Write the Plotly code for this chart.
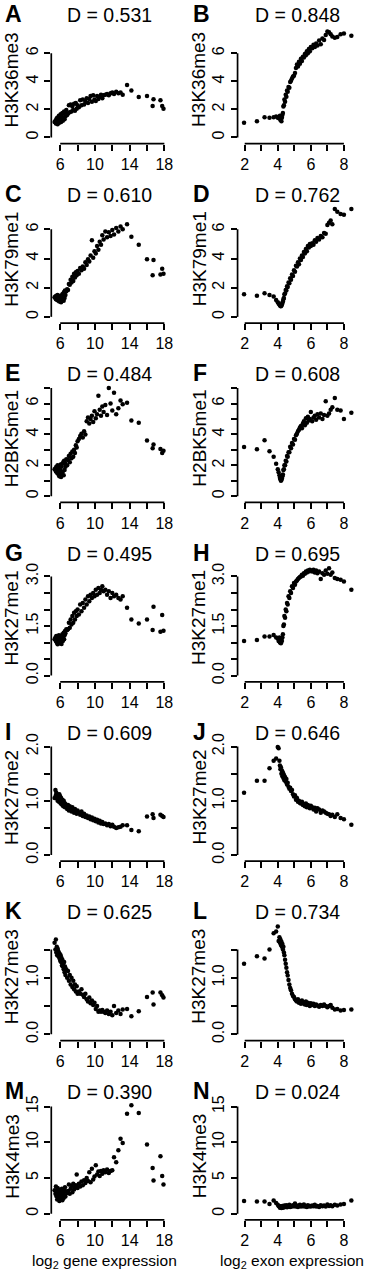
import plotly.graph_objects as go

# ---------------- data ----------------
gene_x = [5.35, 5.45, 5.5, 5.55, 5.6, 5.65, 5.7, 5.75, 5.8, 5.85, 5.9, 5.95, 6.0, 6.05, 6.1, 6.15, 6.2,
          6.25, 6.3, 6.35, 6.4, 6.45, 6.5, 6.55, 6.6, 6.7, 6.8,
          6.9, 7.0, 7.1, 7.2, 7.3, 7.4, 7.5, 7.6, 7.7, 7.8, 7.9, 8.0,
          8.15, 8.3, 8.45, 8.6, 8.75, 8.9, 9.05, 9.2, 9.35, 9.5, 9.65, 9.8, 9.95, 10.1, 10.25, 10.4,
          10.55, 10.7, 10.85, 11.0,
          11.2, 11.4, 11.6, 11.8, 12.0, 12.2, 12.45, 12.7, 12.95, 13.2,
          13.7, 14.2, 15.05, 16.0, 16.65, 16.75, 17.55, 17.75, 17.9]

exon_x = [1.96, 2.74, 3.2, 3.5, 3.75, 3.9, 4.0, 4.05,
          4.1, 4.13, 4.16, 4.19, 4.22, 4.25, 4.28,
          4.31, 4.34, 4.37, 4.4, 4.44, 4.48, 4.52, 4.56, 4.6, 4.65, 4.7, 4.75, 4.8, 4.86, 4.92, 4.98, 5.04,
          5.1, 5.16, 5.22, 5.28, 5.34, 5.4, 5.46, 5.52, 5.58, 5.64, 5.7, 5.76, 5.82, 5.88, 5.94, 6.0,
          6.08, 6.16, 6.24, 6.32, 6.4, 6.5, 6.6, 6.7, 6.8, 6.9, 7.0, 7.1, 7.2, 7.3, 7.45, 7.6, 7.8, 8.0, 8.45]

A_y = [1.10, 1.20, 1.00, 1.30, 1.10, 1.40, 0.95, 1.35, 1.15, 1.55, 1.05, 1.45, 1.20, 1.65, 1.10, 1.55,
       1.25, 1.75, 1.20, 1.70, 1.40, 1.85, 1.30, 1.80, 1.50, 1.95, 1.60,
       1.70, 2.30, 1.80, 2.35, 1.85, 2.20, 1.95, 2.40, 1.90, 2.45, 2.05, 2.30,
       2.15, 2.65, 2.30, 2.70, 2.35, 2.55, 2.80, 2.45, 2.75, 2.95, 2.55, 3.00, 2.70, 2.60, 2.95, 2.75,
       2.90, 3.05, 2.80, 3.00,
       3.05, 3.10, 3.00, 3.15, 3.20, 3.10, 3.25, 3.15, 3.20, 3.05,
       3.74, 3.34, 2.89, 2.96, 2.25, 2.73, 2.65, 2.25, 2.04]

C_y = [1.35, 1.40, 1.20, 1.45, 1.30, 1.15, 1.50, 1.25, 1.10, 1.40, 1.05, 1.30, 1.20, 1.45, 1.00, 1.35,
       1.15, 1.55, 1.25, 1.60, 1.10, 1.70, 1.30, 1.80, 1.50, 1.75, 1.90,
       1.85, 2.25, 2.20, 2.55, 2.35, 2.75, 2.45, 2.95, 2.70, 3.05, 2.85, 3.15,
       2.95, 3.35, 3.20, 3.45, 3.30, 3.75, 3.55, 3.95, 3.80, 4.20, 5.25, 4.05, 4.50, 4.35, 4.85, 4.60,
       5.15, 4.95, 5.60, 5.30,
       5.85, 5.45, 5.80, 5.55, 5.95, 5.65, 6.10, 5.85, 6.20, 6.00,
       6.35, 5.50, 4.95, 3.95, 2.85, 3.90, 2.90, 3.30, 2.95]

E_y = [1.75, 1.80, 1.60, 1.90, 1.70, 1.50, 2.00, 1.65, 1.40, 1.85, 1.30, 1.75, 1.55, 2.05, 1.25, 1.90,
       1.45, 2.10, 1.60, 2.20, 1.35, 2.30, 1.70, 2.15, 1.90, 2.40, 2.00,
       2.35, 2.60, 2.20, 2.75, 2.45, 2.90, 2.55, 3.00, 2.80, 3.30, 3.15, 3.55,
       3.70, 3.90, 4.05, 3.80, 4.20, 4.00, 4.85, 5.10, 4.70, 5.00, 5.20, 4.80, 5.50, 5.05, 5.30, 6.50,
       5.60, 5.20, 5.80, 5.45,
       5.90, 5.25, 7.00, 6.00, 5.55, 6.70, 5.30, 5.70, 6.20, 5.95,
       6.05, 4.90, 4.75, 3.60, 3.10, 3.35, 3.05, 2.80, 2.95]

G_y = [1.10, 1.15, 1.05, 1.20, 1.00, 1.12, 0.95, 1.18, 1.05, 1.22, 0.98, 1.10, 1.15, 1.02, 1.20, 0.96,
       1.12, 1.25, 1.05, 1.18, 1.30, 1.10, 1.22, 1.35, 1.28, 1.40, 1.38,
       1.40, 1.60, 1.45, 1.70, 1.55, 1.80, 1.60, 1.90, 1.70, 1.95, 1.80, 2.00,
       1.85, 2.15, 1.95, 2.20, 2.05, 2.30, 2.15, 2.40, 2.25, 2.45, 2.35, 2.50, 2.40, 2.60, 2.45, 2.65,
       2.50, 2.60, 2.70, 2.55,
       2.60, 2.45, 2.55, 2.35, 2.50, 2.40, 2.45, 2.35, 2.30, 2.40,
       2.05, 1.70, 1.58, 1.70, 1.38, 2.08, 1.33, 1.83, 1.36]

I_y = [1.05, 1.20, 1.10, 1.15, 1.05, 1.12, 1.00, 1.10, 1.08, 0.98, 1.12, 1.02, 1.08, 0.95, 1.05, 1.00,
       0.93, 1.02, 0.97, 0.90, 1.00, 0.92, 0.96, 0.88, 0.94, 0.90, 0.85,
       0.92, 0.82, 0.90, 0.86, 0.80, 0.88, 0.84, 0.78, 0.85, 0.80, 0.76, 0.82,
       0.78, 0.74, 0.80, 0.72, 0.76, 0.70, 0.73, 0.68, 0.71, 0.66, 0.69, 0.64, 0.67, 0.62, 0.65, 0.60,
       0.63, 0.58, 0.61, 0.57,
       0.58, 0.55, 0.57, 0.53, 0.56, 0.52, 0.50, 0.51, 0.52, 0.55,
       0.55, 0.46, 0.44, 0.71, 0.75, 0.68, 0.74, 0.72, 0.70]

K_y = [1.62, 1.50, 1.68, 1.45, 1.55, 1.40, 1.52, 1.48, 1.38, 1.45, 1.35, 1.42, 1.30, 1.40, 1.28, 1.35,
       1.22, 1.32, 1.20, 1.25, 1.15, 1.28, 1.10, 1.20, 1.05, 1.15, 1.00,
       1.12, 0.95, 1.05, 0.88, 1.00, 0.84, 0.95, 0.80, 0.88, 0.76, 0.85, 0.72,
       0.76, 0.72, 0.80, 0.70, 0.66, 0.72, 0.62, 0.58, 0.65, 0.55, 0.60, 0.52, 0.56, 0.45, 0.50, 0.40,
       0.42, 0.40, 0.43, 0.40,
       0.38, 0.42, 0.36, 0.40, 0.34, 0.50, 0.38, 0.42, 0.36, 0.44,
       0.45, 0.32, 0.41, 0.66, 0.74, 0.53, 0.74, 0.69, 0.65]

M_y = [3.30, 2.80, 3.80, 2.50, 3.10, 2.00, 3.60, 2.70, 2.30, 3.40, 1.80, 2.90, 2.40, 3.20, 2.10, 2.60,
       3.50, 1.90, 2.80, 3.00, 2.20, 3.30, 2.60, 3.70, 2.40, 3.10, 2.90,
       3.20, 4.10, 2.80, 3.50, 3.90, 3.00, 4.20, 3.40, 3.70, 4.00, 5.50, 3.60,
       4.20, 3.80, 4.50, 4.00, 4.70, 4.30, 5.00, 4.60, 5.80, 4.40, 6.30, 4.80, 5.20, 6.80, 5.50, 5.90,
       5.30, 6.00, 5.60, 6.10,
       5.80, 6.20, 5.70, 6.00, 6.10, 7.90, 7.20, 8.90, 10.50, 9.90,
       14.00, 15.20, 14.10, 9.70, 6.40, 4.65, 8.05, 5.30, 4.10]

B_y = [1.05, 1.15, 1.45, 1.40, 1.45, 1.50, 1.40, 1.45,
       1.35, 1.55, 1.25, 1.45, 1.15, 1.40, 1.60,
       1.75, 2.20, 2.30, 2.70, 2.55, 3.05, 2.90, 3.35, 3.25, 3.60, 3.55, 3.95, 4.05, 4.20, 4.35, 4.40, 4.60,
       4.95, 5.20, 5.05, 5.40, 5.25, 5.60, 5.45, 5.75, 5.70, 5.95, 5.85, 6.15, 6.00, 6.30, 6.15, 6.45,
       6.35, 6.60, 6.45, 6.70, 6.55, 6.90, 6.65, 7.05, 6.95, 7.30, 7.55, 7.50, 7.35, 7.20, 7.10, 7.15,
       7.35, 7.40, 7.25]

D_y = [1.55, 1.45, 1.62, 1.50, 1.40, 1.15, 1.00, 0.92,
       0.85, 0.80, 0.75, 0.72, 0.78, 0.85, 0.95,
       1.05, 1.20, 1.30, 1.55, 1.60, 1.85, 1.80, 2.10, 2.05, 2.35, 2.30, 2.65, 2.55, 2.90, 2.80, 3.20, 3.10,
       3.50, 3.45, 3.75, 3.60, 4.00, 3.90, 4.20, 4.10, 4.45, 4.35, 4.65, 4.50, 4.85, 4.75, 5.00, 4.85,
       5.05, 4.95, 5.25, 5.15, 5.40, 5.30, 5.55, 5.45, 5.75, 5.70, 6.30, 6.45, 6.60, 6.35, 7.40, 7.20,
       7.05, 7.00, 7.40]

F_y = [3.19, 3.04, 3.62, 2.91, 2.55, 2.10, 1.75, 1.55,
       1.35, 1.20, 1.10, 1.00, 1.05, 1.15, 1.30,
       1.40, 1.70, 1.75, 2.00, 2.00, 2.30, 2.25, 2.60, 2.55, 2.85, 2.85, 3.20, 3.10, 3.45, 3.35, 3.70, 3.65,
       3.95, 4.05, 4.20, 4.30, 4.45, 4.55, 4.40, 4.70, 4.85, 4.60, 5.05, 4.75, 5.15, 4.90, 5.00, 5.45,
       4.85, 5.10, 5.20, 4.95, 5.30, 5.10, 5.35, 5.00, 5.25, 6.15, 5.20, 5.35, 5.60, 5.75, 6.35, 5.60,
       5.55, 5.00, 5.40]

H_y = [1.05, 1.08, 1.18, 1.18, 1.23, 1.15, 1.12, 1.05,
       1.15, 1.00, 1.10, 0.98, 1.12, 1.05, 1.15,
       1.25, 1.50, 1.55, 1.80, 1.75, 2.00, 1.95, 2.20, 2.15, 2.40, 2.35, 2.55, 2.50, 2.70, 2.65, 2.80, 2.75,
       2.85, 2.88, 2.92, 2.95, 2.98, 3.00, 3.05, 3.02, 3.10, 3.08, 3.15, 3.12, 3.18, 3.15, 3.20, 3.18,
       3.15, 3.20, 3.12, 3.18, 3.10, 3.15, 2.92, 3.10, 3.05, 3.18, 3.08, 3.25, 3.05, 3.12, 2.95, 2.92,
       2.90, 2.85, 2.60]

J_y = [1.15, 1.37, 1.37, 1.60, 1.74, 1.78, 1.99, 1.97,
       1.74, 1.65, 1.58, 1.62, 1.50, 1.56, 1.45,
       1.52, 1.42, 1.48, 1.38, 1.44, 1.35, 1.40, 1.30, 1.33, 1.26, 1.22, 1.24, 1.18, 1.20, 1.12, 1.08, 1.10,
       1.02, 1.05, 0.98, 1.00, 0.96, 0.95, 0.98, 0.92, 0.94, 0.90, 0.95, 0.88, 0.92, 0.90, 0.86, 0.91,
       0.88, 0.84, 0.87, 0.80, 0.86, 0.84, 0.78, 0.82, 0.80, 0.78, 0.76, 0.75, 0.72, 0.74, 0.70, 0.75,
       0.68, 0.66, 0.56]

L_y = [1.25, 1.38, 1.34, 1.50, 1.79, 1.82, 1.91, 1.65,
       1.72, 1.62, 1.68, 1.58, 1.64, 1.55, 1.60,
       1.50, 1.55, 1.45, 1.40, 1.32, 1.25, 1.18, 1.10, 1.04, 0.96, 0.88, 0.82, 0.78, 0.72, 0.68, 0.66, 0.62,
       0.60, 0.58, 0.62, 0.56, 0.58, 0.54, 0.60, 0.55, 0.57, 0.53, 0.58, 0.52, 0.56, 0.54, 0.50, 0.55,
       0.52, 0.54, 0.50, 0.53, 0.51, 0.49, 0.52, 0.50, 0.53, 0.50, 0.48, 0.50, 0.52, 0.47, 0.44, 0.45,
       0.42, 0.43, 0.44]

N_y = [1.80, 1.72, 1.72, 1.35, 1.85, 1.50, 1.25, 1.10,
       1.00, 0.85, 1.05, 0.90, 0.80, 0.95, 1.10,
       0.85, 1.00, 0.90, 1.15, 0.95, 1.05, 1.20, 0.90, 1.10, 1.00, 1.25, 0.95, 1.10, 1.00, 1.20, 1.05, 1.45,
       1.00, 1.15, 0.95, 1.10, 1.25, 1.00, 1.15, 1.05, 1.30, 1.00, 1.10, 0.95, 1.20, 1.05, 1.10, 1.00,
       1.15, 1.05, 1.25, 1.00, 1.10, 0.95, 1.20, 1.05, 1.15, 1.00, 1.30, 1.10, 1.20, 1.05, 1.25, 1.15,
       1.30, 1.35, 1.86]

marks = ["H3K36me3", "H3K79me1", "H2BK5me1", "H3K27me1", "H3K27me2", "H3K27me3", "H3K4me3"]
letters_left = ["A", "C", "E", "G", "I", "K", "M"]
letters_right = ["B", "D", "F", "H", "J", "L", "N"]
d_left = ["0.531", "0.610", "0.484", "0.495", "0.609", "0.625", "0.390"]
d_right = ["0.848", "0.762", "0.608", "0.695", "0.646", "0.734", "0.024"]
y_left = [A_y, C_y, E_y, G_y, I_y, K_y, M_y]
y_right = [B_y, D_y, F_y, H_y, J_y, L_y, N_y]

row_tickvals = [[0, 2, 4, 6], [0, 2, 4, 6], [0, 1, 2, 3, 4, 5, 6, 7],
                [0, 0.5, 1, 1.5, 2, 2.5, 3], [0, 0.5, 1, 1.5, 2], [0, 0.5, 1, 1.5], [0, 5, 10, 15]]
row_ticktext = [["0", "2", "4", "6"], ["0", "2", "4", "6"], ["0", "", "2", "", "4", "", "6", ""],
                ["0.0", "", "", "1.5", "", "", "3.0"], ["0.0", "", "1.0", "", "2.0"],
                ["0.0", "", "1.0", ""], ["0", "5", "10", "15"]]
gene_ticks = [6, 8, 10, 12, 14, 16, 18]
gene_ticktext = ["6", "", "10", "", "14", "", "18"]
exon_ticks = [2, 3, 4, 5, 6, 7, 8]
exon_ticktext = ["2", "", "4", "", "6", "", "8"]

# ---------------- geometry (pixels) ----------------
W, H = 371, 1280
ROW_STEP = 179.8
TOP, BOT = 14.0, 144.0
ZERO = 137.8
ROW_PPU = [14.07, 14.62, 15.49, 33.13, 54.35, 56.67, 7.16]
COLS = [
    dict(axis=51.7, right=172.0, ref_v=6.0, ref_px=60.7, ppu=8.75, xs=gene_x, ticks=gene_ticks,
         ticktext=gene_ticktext, letter_x=3.0, ylab_x=11.7, title_x=110.0, xlab_x=105.0,
         xlab="log<sub>2</sub> gene expression"),
    dict(axis=239.5, right=360.0, ref_v=2.0, ref_px=246.7, ppu=16.67, xs=exon_x, ticks=exon_ticks,
         ticktext=exon_ticktext, letter_x=192.5, ylab_x=200.7, title_x=300.0, xlab_x=294.5,
         xlab="log<sub>2</sub> exon expression"),
]
FONT = "Liberation Sans, Arial, Helvetica, sans-serif"
AX_W = 1.7


def fy(px):
    return 1 - px / H


def fx(px):
    return px / W


fig = go.Figure()
layout = dict(width=W, height=H, margin=dict(l=0, r=0, t=0, b=0), showlegend=False,
              plot_bgcolor="white", paper_bgcolor="white", font=dict(family=FONT, color="black"))
annotations = []
shapes = []
n = 0
for r in range(7):
    oy = r * ROW_STEP
    ppu_y = ROW_PPU[r]
    yrange = [(ZERO - BOT) / ppu_y, (ZERO - TOP) / ppu_y]
    for c, col in enumerate(COLS):
        n += 1
        sfx = "" if n == 1 else str(n)
        ys = y_left[r] if c == 0 else y_right[r]
        xrange = [col["ref_v"] + (col["axis"] - col["ref_px"]) / col["ppu"],
                  col["ref_v"] + (col["right"] - col["ref_px"]) / col["ppu"]]
        fig.add_trace(go.Scatter(x=col["xs"], y=ys, mode="markers", xaxis="x" + sfx, yaxis="y" + sfx,
                                 cliponaxis=False,
                                 marker=dict(size=4.5, color="black", line=dict(width=0))))
        layout["xaxis" + sfx] = dict(domain=[fx(col["axis"]), fx(col["right"])], range=xrange,
                                     anchor="y" + sfx, showgrid=False, zeroline=False, showline=False,
                                     ticks="outside", ticklen=6, tickwidth=AX_W, tickcolor="black",
                                     tickvals=col["ticks"], ticktext=col["ticktext"],
                                     tickfont=dict(size=16, family=FONT, color="black"), fixedrange=True)
        layout["yaxis" + sfx] = dict(domain=[fy(oy + BOT), fy(oy + TOP)], range=yrange,
                                     anchor="x" + sfx, showgrid=False, zeroline=False, showline=False,
                                     ticks="outside", ticklen=6, tickwidth=AX_W, tickcolor="black",
                                     tickvals=row_tickvals[r], ticktext=row_ticktext[r], tickangle=-90,
                                     tickfont=dict(size=16, family=FONT, color="black"), fixedrange=True)
        # R-style axis lines spanning first to last tick
        shapes.append(dict(type="line", xref="x" + sfx + " domain", yref="y" + sfx, x0=0, x1=0,
                           y0=row_tickvals[r][0], y1=row_tickvals[r][-1],
                           line=dict(color="black", width=AX_W)))
        shapes.append(dict(type="line", xref="x" + sfx, yref="y" + sfx + " domain", y0=0, y1=0,
                           x0=col["ticks"][0], x1=col["ticks"][-1],
                           line=dict(color="black", width=AX_W)))
        letter = letters_left[r] if c == 0 else letters_right[r]
        dval = d_left[r] if c == 0 else d_right[r]
        annotations.append(dict(text="<b>" + letter + "</b>", xref="paper", yref="paper",
                                x=fx(col["letter_x"]), y=fy(oy + 14.5), xanchor="left", yanchor="middle",
                                showarrow=False, font=dict(size=23, family=FONT, color="black")))
        annotations.append(dict(text="D = " + dval, xref="paper", yref="paper",
                                x=fx(col["title_x"]), y=fy(oy + 15.5), xanchor="center", yanchor="middle",
                                showarrow=False, font=dict(size=19.5, family=FONT, color="black")))
        annotations.append(dict(text=marks[r], xref="paper", yref="paper", textangle=-90,
                                x=fx(col["ylab_x"]), y=fy(oy + 80), xanchor="center", yanchor="middle",
                                showarrow=False, font=dict(size=19, family=FONT, color="black")))
        if r == 6:
            annotations.append(dict(text=col["xlab"], xref="paper", yref="paper",
                                    x=fx(col["xlab_x"]), y=fy(1264), xanchor="center", yanchor="middle",
                                    showarrow=False, font=dict(size=15.5, family=FONT, color="black")))

layout["annotations"] = annotations
layout["shapes"] = shapes
fig.update_layout(**layout)
fig.write_html("out.html", config={"displayModeBar": False},
               post_script="document.body.style.margin='0px';document.body.style.overflow='hidden';")
